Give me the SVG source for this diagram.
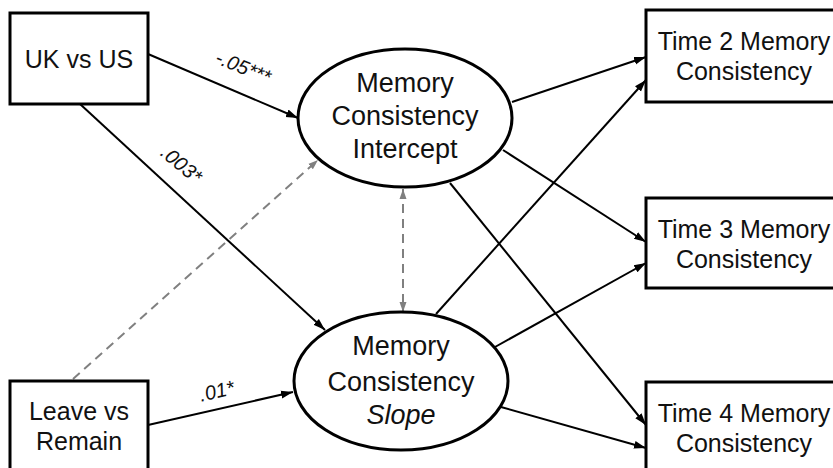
<svg xmlns="http://www.w3.org/2000/svg" width="833" height="468" viewBox="0 0 833 468">
<style>
.box{fill:#fff;stroke:#000;stroke-width:3}
.ell{fill:#fff;stroke:#000;stroke-width:3}
.t{font-family:"Liberation Sans",Arial,sans-serif;font-size:25px;fill:#111;text-anchor:middle}
.te{font-family:"Liberation Sans",Arial,sans-serif;font-size:27px;fill:#111;text-anchor:middle}
.lab{font-family:"Liberation Sans",Arial,sans-serif;font-size:20px;font-style:italic;fill:#111;text-anchor:middle}
.ln{stroke:#000;stroke-width:2;fill:none;marker-end:url(#ah)}
.dl{stroke:#808080;stroke-width:2;fill:none;stroke-dasharray:9 6}
</style>
<defs>
<marker id="ah" markerUnits="userSpaceOnUse" markerWidth="12" markerHeight="10" viewBox="0 0 12 10" refX="12" refY="5" orient="auto">
<path d="M0,1 L12,5 L0,9 Z" fill="#000"/>
</marker>
<marker id="gh" markerUnits="userSpaceOnUse" markerWidth="10" markerHeight="8" viewBox="0 0 10 8" refX="10" refY="4" orient="auto-start-reverse">
<path d="M0,0.5 L10,4 L0,7.5 Z" fill="#808080"/>
</marker>
</defs>
<rect width="833" height="468" fill="#fff"/>
<g id="connectors">
<line class="ln" x1="148" y1="54" x2="298" y2="118"/>
<line class="ln" x1="80" y1="104" x2="325" y2="330"/>
<line class="dl" x1="73" y1="379" x2="318" y2="160" marker-end="url(#gh)"/>
<line class="dl" x1="403" y1="189" x2="403" y2="312" marker-start="url(#gh)" marker-end="url(#gh)"/>
<line class="ln" x1="148" y1="425" x2="293" y2="392"/>
<line class="ln" x1="512" y1="102" x2="646" y2="57"/>
<line class="ln" x1="503" y1="150" x2="646" y2="242"/>
<line class="ln" x1="450" y1="183" x2="646" y2="425"/>
<line class="ln" x1="436" y1="314" x2="646" y2="80"/>
<line class="ln" x1="495" y1="347" x2="646" y2="263"/>
<line class="ln" x1="501" y1="407" x2="646" y2="448"/>
<text class="lab" transform="translate(243,68) rotate(22)" y="6">-.05***</text>
<text class="lab" transform="translate(181,165) rotate(40)" y="6">.003*</text>
<text class="lab" transform="translate(217,392) rotate(-13)" y="6">.01*</text>
</g>
<g id="uk">
<rect class="box" x="10" y="13" width="138" height="91"/>
<text class="t" x="79" y="68">UK vs US</text>
</g>
<g id="leave">
<rect class="box" x="10" y="381" width="138" height="100"/>
<text class="t" x="79" y="420">Leave vs</text>
<text class="t" x="79" y="450">Remain</text>
</g>
<g id="intercept">
<ellipse class="ell" cx="405" cy="118" rx="107" ry="69"/>
<text class="te" x="405" y="92">Memory</text>
<text class="te" x="405" y="125">Consistency</text>
<text class="te" x="405" y="158">Intercept</text>
</g>
<g id="slope">
<ellipse class="ell" cx="401" cy="381" rx="107" ry="69"/>
<text class="te" x="401" y="355">Memory</text>
<text class="te" x="401" y="391">Consistency</text>
<text class="te" x="401" y="424" font-style="italic">Slope</text>
</g>
<g id="time2">
<rect class="box" x="646" y="10" width="196" height="92"/>
<text class="t" x="744" y="50">Time 2 Memory</text>
<text class="t" x="744" y="80">Consistency</text>
</g>
<g id="time3">
<rect class="box" x="646" y="198" width="196" height="90"/>
<text class="t" x="744" y="238">Time 3 Memory</text>
<text class="t" x="744" y="268">Consistency</text>
</g>
<g id="time4">
<rect class="box" x="646" y="382" width="196" height="100"/>
<text class="t" x="744" y="422">Time 4 Memory</text>
<text class="t" x="744" y="452">Consistency</text>
</g>
</svg>
